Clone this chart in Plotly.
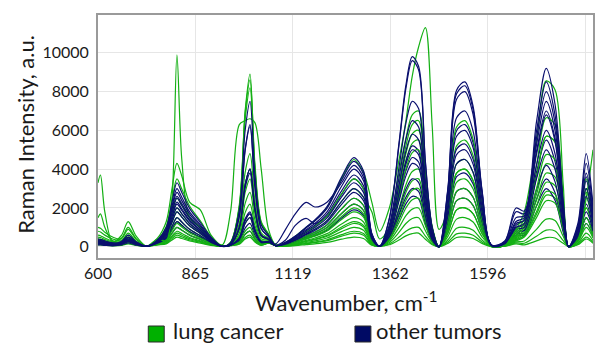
import plotly.graph_objects as go

# detector channel positions (x axis is the spectrometer channel; labels are wavenumbers)
channel = [0, 5, 14, 30, 48, 62, 78, 100, 122, 140, 152, 162, 172, 188, 210, 232, 255, 272, 290, 302,
           312, 322, 335, 350, 365, 385, 405, 427, 445, 470, 500, 525, 545, 562, 578, 598, 618, 632, 645, 658,
           672, 686, 700, 718, 736, 753, 770, 788, 808, 835, 858, 875, 900, 920, 938, 955, 966, 985, 1002, 1016]

tick_channels = [0, 200, 400, 600, 800, 1000]
tick_wavenumbers = ["600", "865", "1119", "1362", "1596", "1820"]
y_ticks = [0, 2000, 4000, 6000, 8000, 10000]
y_tick_labels = ["0", "2000", "4000", "6000", "8000", "10000"]

# lung cancer spectra (green)
lung_1 = [3300, 3700, 1800, 250, 580, 1300, 560, 30, 400, 300, 2500, 9900, 4500, 1500, 1000, 400, 20, 230, 2000, 7000, 8900, 4000, 1200, 600, 60, 175, 420, 770, 1050, 1575, 2730, 3500, 2975, 525, 30, 1050, 3850, 5600, 6800, 7000, 3850, 1050, 0, 2275, 6175, 6500, 5525, 2275, 65, 135, 900, 1800, 5400, 8550, 8100, 3150, 0, 400, 2500, 5000]
lung_2 = [1500, 1700, 1000, 300, 450, 1000, 430, 30, 440, 1290, 3010, 4300, 3650, 2300, 1900, 600, 100, 1800, 6300, 6500, 6600, 6400, 4000, 900, 100, 225, 540, 990, 1350, 2025, 3510, 4500, 3825, 2300, 800, 2000, 4500, 6500, 8800, 10300, 11300, 6200, 900, 1900, 5200, 5500, 4700, 1900, 50, 120, 800, 1400, 4200, 6650, 6300, 2450, 0, 875, 3500, 1575]
lung_3 = [1000, 950, 750, 500, 405, 900, 390, 30, 365, 1050, 2450, 3500, 2975, 2100, 1330, 525, 20, 220, 2150, 6880, 8600, 4300, 1290, 670, 60, 150, 360, 660, 900, 1350, 2340, 3000, 2550, 1800, 400, 975, 3250, 5200, 6300, 6500, 3575, 975, 0, 1575, 4275, 4500, 3825, 1575, 45, 105, 700, 1200, 3600, 5700, 5400, 2100, 0, 750, 3000, 1350]
lung_4 = [800, 760, 600, 400, 315, 700, 300, 30, 275, 750, 1750, 2500, 2125, 1500, 950, 375, 20, 215, 2050, 6560, 8200, 4100, 1230, 640, 60, 125, 300, 550, 750, 1125, 1950, 2500, 2125, 375, 30, 900, 3000, 4800, 5820, 6000, 3300, 900, 0, 1400, 3800, 4000, 3400, 1400, 40, 90, 600, 1000, 3000, 4750, 4500, 1750, 0, 625, 2500, 1125]
lung_5 = [600, 570, 450, 300, 270, 600, 260, 30, 230, 600, 1400, 2000, 1700, 1200, 760, 300, 20, 145, 1200, 3840, 4800, 2400, 720, 440, 60, 100, 240, 440, 600, 900, 1560, 2000, 1700, 300, 30, 750, 2500, 4000, 4850, 5000, 2750, 750, 0, 1225, 3325, 3500, 2975, 1225, 35, 75, 500, 900, 2700, 4275, 4050, 1575, 0, 500, 2000, 900]
lung_6 = [500, 475, 375, 250, 225, 500, 215, 30, 185, 450, 1050, 1500, 1275, 900, 570, 225, 20, 120, 875, 2800, 3500, 1750, 525, 360, 60, 90, 215, 395, 540, 810, 1405, 1800, 1530, 270, 30, 600, 2000, 3200, 3880, 4000, 2200, 600, 0, 1050, 2850, 3000, 2550, 1050, 30, 70, 450, 800, 2400, 3800, 3600, 1400, 0, 500, 2000, 900]
lung_7 = [400, 380, 300, 200, 180, 400, 170, 30, 160, 360, 840, 1200, 1020, 720, 455, 180, 20, 95, 550, 1760, 2200, 1100, 330, 280, 60, 75, 180, 330, 450, 675, 1170, 1500, 1275, 225, 30, 450, 1500, 2400, 2910, 3000, 1650, 450, 0, 875, 2375, 2500, 2125, 875, 25, 60, 400, 700, 2100, 3325, 3150, 1225, 0, 375, 1500, 675]
lung_8 = [300, 285, 225, 150, 160, 350, 150, 30, 140, 300, 700, 1000, 850, 600, 380, 150, 20, 80, 375, 1200, 1500, 750, 225, 240, 60, 60, 145, 265, 360, 540, 935, 1200, 1020, 180, 30, 375, 1250, 2000, 2425, 2500, 1375, 375, 0, 700, 1900, 2000, 1700, 700, 20, 55, 350, 600, 1800, 2850, 2700, 1050, 0, 300, 1200, 540]
lung_9 = [250, 240, 190, 125, 135, 300, 130, 30, 120, 240, 560, 800, 680, 480, 305, 120, 20, 70, 250, 800, 1000, 500, 150, 210, 60, 50, 120, 220, 300, 450, 780, 1000, 850, 150, 30, 300, 1000, 1600, 1940, 2000, 1100, 300, 0, 525, 1425, 1500, 1275, 525, 15, 45, 300, 500, 1500, 2375, 2250, 875, 0, 250, 1000, 450]
lung_10 = [200, 190, 150, 100, 110, 250, 110, 30, 105, 180, 420, 600, 510, 360, 230, 90, 20, 65, 200, 640, 800, 400, 120, 200, 60, 40, 95, 175, 240, 360, 625, 800, 680, 120, 30, 225, 750, 1200, 1455, 1500, 825, 225, 0, 350, 950, 1000, 850, 350, 10, 40, 250, 300, 900, 1425, 1350, 525, 0, 175, 700, 315]
lung_11 = [150, 145, 110, 75, 90, 200, 85, 30, 95, 150, 350, 500, 425, 300, 190, 75, 20, 60, 150, 480, 600, 300, 90, 185, 60, 35, 85, 155, 210, 315, 545, 700, 595, 105, 30, 150, 500, 800, 970, 1000, 550, 150, 0, 245, 665, 700, 595, 245, 10, 30, 200, 180, 540, 855, 810, 315, 0, 125, 500, 225]
lung_12 = [400, 380, 300, 200, 225, 500, 215, 30, 210, 540, 1260, 1800, 1530, 1080, 685, 270, 20, 130, 1000, 3200, 4000, 2000, 600, 390, 60, 110, 265, 485, 660, 990, 1715, 2200, 1870, 330, 30, 825, 2750, 4400, 5335, 5500, 3025, 825, 0, 1400, 3800, 4000, 3400, 1400, 40, 85, 550, 1200, 3600, 5700, 5400, 2100, 0, 700, 2800, 1260]
lung_13 = [100, 95, 75, 50, 70, 150, 65, 30, 110, 210, 490, 700, 595, 420, 265, 105, 20, 60, 125, 400, 500, 250, 75, 180, 60, 25, 60, 110, 150, 225, 390, 500, 425, 75, 30, 105, 350, 560, 680, 700, 385, 105, 0, 175, 475, 500, 425, 175, 5, 25, 150, 100, 300, 475, 450, 175, 0, 100, 400, 180]
lung_14 = [350, 330, 260, 175, 200, 450, 195, 30, 165, 390, 910, 1300, 1105, 780, 495, 195, 20, 105, 700, 2240, 2800, 1400, 420, 320, 60, 65, 155, 285, 390, 585, 1015, 1300, 1105, 195, 30, 525, 1750, 2800, 3395, 3500, 1925, 525, 0, 700, 1900, 2000, 1700, 700, 20, 50, 350, 560, 1680, 2660, 2520, 980, 0, 375, 1500, 675]

# other tumors spectra (navy)
other_1 = [300, 285, 225, 150, 270, 600, 260, 30, 350, 990, 2310, 3300, 2800, 1980, 1250, 500, 20, 200, 1875, 6000, 7500, 3750, 1125, 600, 60, 230, 550, 1010, 1380, 2070, 3590, 4600, 3910, 690, 30, 1470, 5390, 8330, 9800, 9310, 4410, 980, 0, 2975, 8075, 8500, 7225, 2975, 85, 300, 2000, 1840, 6440, 9200, 7360, 2300, 0, 1200, 4800, 2160]
other_2 = [250, 240, 190, 125, 225, 500, 215, 30, 320, 900, 2100, 3000, 2550, 1800, 1140, 450, 20, 175, 1575, 5040, 6300, 3150, 945, 530, 60, 220, 530, 970, 1320, 1980, 3430, 4400, 3740, 660, 30, 1440, 5280, 8160, 9600, 9120, 4320, 960, 0, 2905, 7885, 8300, 7055, 2905, 80, 270, 1800, 1700, 5950, 8500, 6800, 2125, 0, 1075, 4300, 1935]
other_3 = [400, 380, 300, 200, 200, 450, 195, 30, 300, 840, 1960, 2800, 2380, 1680, 1065, 420, 20, 175, 1550, 4960, 6200, 3100, 930, 520, 60, 200, 480, 880, 1200, 1800, 3120, 4000, 3400, 600, 30, 1125, 4125, 6375, 7500, 7125, 3375, 750, 0, 2800, 7600, 8000, 6800, 2800, 80, 225, 1500, 1600, 5600, 8000, 6400, 2000, 0, 950, 3800, 1710]
other_4 = [200, 190, 150, 100, 180, 400, 170, 30, 275, 750, 1750, 2500, 2125, 1500, 950, 375, 20, 130, 1000, 3200, 4000, 2000, 600, 390, 60, 185, 445, 815, 1110, 1665, 2885, 3700, 3145, 555, 30, 975, 3575, 5525, 6500, 6175, 2925, 650, 0, 2450, 6650, 7000, 5950, 2450, 70, 195, 1300, 1500, 5250, 7500, 6000, 1875, 0, 850, 3400, 1530]
other_5 = [350, 330, 260, 175, 160, 350, 150, 30, 250, 660, 1540, 2200, 1870, 1320, 835, 330, 20, 125, 950, 3040, 3800, 1900, 570, 380, 60, 165, 395, 725, 990, 1485, 2575, 3300, 2805, 495, 30, 870, 3190, 4930, 5800, 5510, 2610, 580, 0, 2100, 5700, 6000, 5100, 2100, 60, 180, 1200, 1360, 4760, 6800, 5440, 1700, 0, 750, 3000, 1350]
other_6 = [150, 145, 110, 75, 135, 300, 130, 30, 230, 600, 1400, 2000, 1700, 1200, 760, 300, 20, 85, 450, 1440, 1800, 900, 270, 260, 60, 150, 360, 660, 900, 1350, 2340, 3000, 2550, 450, 30, 750, 2750, 4250, 5000, 4750, 2250, 500, 0, 1855, 5035, 5300, 4505, 1855, 55, 150, 1000, 1200, 4200, 6000, 4800, 1500, 0, 650, 2600, 1170]
other_7 = [250, 240, 190, 125, 135, 300, 130, 30, 210, 540, 1260, 1800, 1530, 1080, 685, 270, 20, 85, 425, 1360, 1700, 850, 255, 250, 60, 140, 335, 615, 840, 1260, 2185, 2800, 2380, 420, 30, 645, 2365, 3655, 4300, 4085, 1935, 430, 0, 1575, 4275, 4500, 3825, 1575, 45, 135, 900, 1000, 3500, 5000, 4000, 1250, 0, 550, 2200, 990]
other_8 = [100, 95, 75, 50, 110, 250, 110, 30, 185, 450, 1050, 1500, 1275, 900, 570, 225, 20, 80, 375, 1200, 1500, 750, 225, 240, 60, 125, 300, 550, 750, 1125, 1950, 2500, 2125, 375, 30, 525, 1925, 2975, 3500, 3325, 1575, 350, 0, 1330, 3610, 3800, 3230, 1330, 40, 120, 800, 840, 2940, 4200, 3360, 1050, 0, 450, 1800, 810]
other_9 = [300, 285, 225, 150, 135, 300, 130, 30, 255, 690, 1610, 2300, 1955, 1380, 875, 345, 20, 85, 425, 1360, 1700, 850, 255, 250, 150, 900, 1700, 2290, 2050, 2300, 3300, 4200, 3570, 630, 30, 780, 2860, 4420, 5200, 4940, 2340, 520, 0, 2205, 5985, 6300, 5355, 2205, 65, 165, 1100, 1400, 4900, 7000, 5600, 1750, 0, 900, 3600, 1620]
other_10 = [200, 190, 150, 100, 160, 350, 150, 30, 285, 780, 1820, 2600, 2210, 1560, 990, 390, 20, 130, 1000, 3200, 4000, 2000, 600, 390, 100, 350, 1100, 1460, 1200, 1580, 2700, 3500, 2975, 525, 30, 690, 2530, 3910, 4600, 4370, 2070, 460, 0, 1750, 4750, 5000, 4250, 1750, 50, 150, 1000, 1100, 3850, 5500, 4400, 1375, 0, 750, 3000, 1350]
other_11 = [150, 145, 110, 75, 90, 200, 85, 30, 165, 390, 910, 1300, 1105, 780, 495, 195, 20, 75, 300, 960, 1200, 600, 180, 220, 60, 95, 230, 420, 570, 855, 1480, 1900, 1615, 285, 30, 450, 1650, 2550, 3000, 2850, 1350, 300, 0, 1050, 2850, 3000, 2550, 1050, 30, 105, 700, 700, 2450, 3500, 2800, 875, 0, 375, 1500, 675]
other_12 = [200, 190, 150, 100, 110, 250, 110, 30, 140, 300, 700, 1000, 850, 600, 380, 150, 20, 65, 200, 640, 800, 400, 120, 200, 60, 110, 265, 485, 660, 990, 1715, 2200, 1870, 330, 30, 390, 1430, 2210, 2600, 2470, 1170, 260, 0, 875, 2375, 2500, 2125, 875, 25, 90, 600, 600, 2100, 3000, 2400, 750, 0, 300, 1200, 540]

lung_cancer = [lung_1, lung_2, lung_3, lung_4, lung_5, lung_6, lung_7, lung_8, lung_9, lung_10,
               lung_11, lung_12, lung_13, lung_14]
other_tumors = [other_1, other_2, other_3, other_4, other_5, other_6, other_7, other_8, other_9,
                other_10, other_11, other_12]

for name, grp in (("lung", lung_cancer), ("other", other_tumors)):
    for i, s in enumerate(grp):
        if len(s) != len(channel):
            raise ValueError(f"{name}_{i+1} has {len(s)} values, expected {len(channel)}")

GREEN = "#14b014"
NAVY = "#0a0f6e"
FONT = "Lato"

fig = go.Figure()

order = []
gi = list(range(len(lung_cancer)))[::-1]
bi = list(range(len(other_tumors)))[::-1]
while gi or bi:
    if gi:
        order.append(("g", gi.pop(0)))
    if gi:
        order.append(("g", gi.pop(0)))
    if bi:
        order.append(("b", bi.pop(0)))

for kind, i in order:
    ys = lung_cancer[i] if kind == "g" else other_tumors[i]
    fig.add_trace(go.Scatter(
        x=channel, y=ys, mode="lines",
        line=dict(color=GREEN if kind == "g" else NAVY, width=1.2, shape="spline", smoothing=0.9),
        showlegend=False, hoverinfo="skip",
    ))

L, R, T, B = 98, 5, 15, 87
W, H = 600, 345
pw, ph = W - L - R, H - T - B

def px(xp):
    return (xp - L) / pw

def py(yp):
    return (H - B - yp) / ph

fig.update_layout(
    width=W, height=H,
    margin=dict(l=L, r=R, t=T, b=B),
    paper_bgcolor="white", plot_bgcolor="white",
    font=dict(family=FONT, color="#1a1a1a"),
    showlegend=False,
    xaxis=dict(
        range=[0, 1016], tickmode="array", tickvals=tick_channels, ticktext=tick_wavenumbers,
        showgrid=True, gridcolor="#e6e6e6", gridwidth=1, zeroline=False,
        showline=True, linecolor="#9a9a9a", linewidth=2, mirror=True,
        ticks="", tickfont=dict(size=16, family=FONT, color="#1a1a1a"),
    ),
    yaxis=dict(
        range=[-580, 11950], tickmode="array", tickvals=y_ticks, ticktext=y_tick_labels,
        showgrid=True, gridcolor="#e6e6e6", gridwidth=1, zeroline=False,
        showline=True, linecolor="#9a9a9a", linewidth=2, mirror=True,
        ticks="", tickfont=dict(size=16, family=FONT, color="#1a1a1a"),
        ticklabelstandoff=4,
    ),
    annotations=[
        dict(text="Raman Intensity, a.u.", xref="paper", yref="paper", x=px(25), y=py(134.5),
             textangle=-90, showarrow=False, font=dict(size=22, family=FONT, color="#1a1a1a"),
             xanchor="center", yanchor="middle"),
        dict(text="Wavenumber, cm<sup>-1</sup>", xref="paper", yref="paper", x=px(254), y=py(301),
             showarrow=False, font=dict(size=22, family=FONT, color="#1a1a1a"),
             xanchor="left", yanchor="middle"),
        dict(text="lung cancer", xref="paper", yref="paper", x=px(171), y=py(330.5),
             showarrow=False, font=dict(size=22, family=FONT, color="#1a1a1a"),
             xanchor="left", yanchor="middle"),
        dict(text="other tumors", xref="paper", yref="paper", x=px(375.5), y=py(330.5),
             showarrow=False, font=dict(size=22, family=FONT, color="#1a1a1a"),
             xanchor="left", yanchor="middle"),
    ],
    shapes=[
        dict(type="rect", xref="paper", yref="paper", x0=px(148.5), x1=px(164.5), y0=py(342), y1=py(326),
             fillcolor="#00b000", line=dict(color="#2a2a2a", width=1)),
        dict(type="rect", xref="paper", yref="paper", x0=px(356), x1=px(372), y0=py(342), y1=py(326),
             fillcolor="#000a64", line=dict(color="#2a2a2a", width=1)),
    ],
)

fig.write_html("out.html")
